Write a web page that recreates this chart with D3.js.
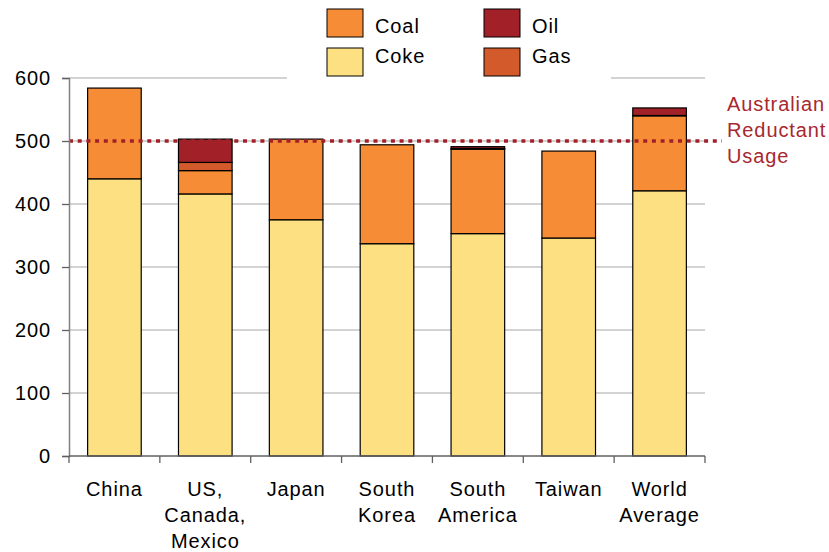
<!DOCTYPE html>
<html><head><meta charset="utf-8">
<script src="https://cdn.jsdelivr.net/npm/d3@7"></script>
<style>body{margin:0;background:#fff}svg{display:block;font-family:"Liberation Sans",Arial,Helvetica,sans-serif}text{letter-spacing:0.9px}</style>
</head><body>
<svg id="chart" width="829" height="552"></svg>
<script>
const categories = [["China"],["US,","Canada,","Mexico"],["Japan"],["South","Korea"],["South","America"],["Taiwan"],["World","Average"]];
const coke = [440, 416, 375, 337, 353, 346, 421];
const coal = [144, 37, 128, 157, 134, 138, 119];
const gas  = [0, 13, 0, 0, 1, 0, 0.5];
const oil  = [0, 37, 0, 0, 3, 0, 12];
const seriesNames = ["Coke","Coal","Gas","Oil"];
const colors = {Coke:"#fde082", Coal:"#f68d36", Gas:"#d35a2a", Oil:"#a22128"};
const yTicks = [0,100,200,300,400,500,600];
const referenceValue = 500;
const referenceLabel = ["Australian","Reductant","Usage"];

const svg = d3.select("#chart");
const x = d3.scaleBand().domain(d3.range(categories.length)).range([69,705]).paddingInner(0.41).paddingOuter(0.205);
const y = d3.scaleLinear().domain([0,600]).range([456,78]);

const rows = categories.map((c,i)=>({i, Coke:coke[i], Coal:coal[i], Gas:gas[i], Oil:oil[i]}));
const stack = d3.stack().keys(seriesNames)(rows);

// gridlines
svg.append("g").selectAll("line").data(yTicks.filter(d=>d>0)).join("line")
  .attr("x1",69).attr("x2",705).attr("y1",d=>y(d)).attr("y2",d=>y(d))
  .attr("stroke","#c4c4c4").attr("stroke-width",1.3);

// bars
svg.append("g").selectAll("g").data(stack).join("g")
  .attr("fill",d=>colors[d.key])
  .selectAll("rect").data(d=>d.filter(p=>p[1]-p[0]>0)).join("rect")
  .attr("x",d=>x(d.data.i)).attr("width",x.bandwidth())
  .attr("y",d=>y(d[1])).attr("height",d=>y(d[0])-y(d[1]))
  .attr("stroke","#000").attr("stroke-width",1.2);

// reference line
svg.append("line").attr("x1",69).attr("x2",722).attr("y1",y(referenceValue)).attr("y2",y(referenceValue))
  .attr("stroke","#a22128").attr("stroke-width",3.5).attr("stroke-dasharray","4,4.7");
svg.append("text").attr("x",727).attr("y",111).attr("fill","#a8282f").attr("font-size",20)
  .selectAll("tspan").data(referenceLabel).join("tspan").attr("x",727).attr("dy",(d,i)=>i?26:0).text(d=>d);

// y axis
const ya = svg.append("g").attr("transform","translate(69,0)")
  .call(d3.axisLeft(y).tickValues(yTicks).tickSize(7).tickPadding(11));
ya.select(".domain").attr("stroke","#808080").attr("stroke-width",1.5);
ya.selectAll(".tick line").attr("stroke","#606060").attr("stroke-width",1.3);
ya.selectAll(".tick text").attr("font-size",20).attr("fill","#000").attr("font-family","Liberation Sans, Arial, sans-serif");

// x axis
svg.append("line").attr("x1",69).attr("x2",705).attr("y1",456).attr("y2",456).attr("stroke","#606060").attr("stroke-width",1.3);
const bounds = d3.range(categories.length+1).map(i=>69+i*x.step());
svg.append("g").selectAll("line").data(bounds).join("line")
  .attr("x1",d=>d).attr("x2",d=>d).attr("y1",456).attr("y2",463).attr("stroke","#606060").attr("stroke-width",1.3);
svg.append("g").selectAll("text").data(categories).join("text")
  .attr("x",(d,i)=>x(i)+x.bandwidth()/2).attr("y",496).attr("text-anchor","middle").attr("font-size",20).attr("fill","#000")
  .selectAll("tspan").data(d=>d).join("tspan")
  .attr("x",function(){return this.parentNode.getAttribute("x");}).attr("dy",(d,i)=>i?26:0).text(d=>d);

// legend
const lg = svg.append("g");
lg.append("rect").attr("x",287).attr("y",0).attr("width",324).attr("height",82).attr("fill","#fff");
const legendItems = [{k:"Coal",x:327,y:9,ty:33},{k:"Coke",x:327,y:48,ty:63},{k:"Oil",x:484,y:9,ty:33},{k:"Gas",x:484,y:48,ty:63}];
const li = lg.selectAll("g").data(legendItems).join("g");
li.append("rect").attr("x",d=>d.x).attr("y",d=>d.y).attr("width",36).attr("height",28)
  .attr("fill",d=>colors[d.k]).attr("stroke","#000").attr("stroke-width",1);
li.append("text").attr("x",d=>d.x+48).attr("y",d=>d.ty).attr("font-size",20).attr("fill","#000").text(d=>d.k);
</script>
</body></html>
